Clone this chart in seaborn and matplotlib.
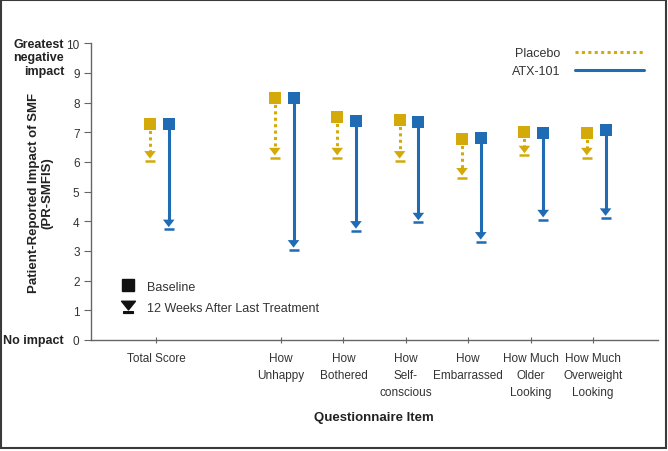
import pandas as pd
import seaborn as sns
import matplotlib.pyplot as plt
from matplotlib.lines import Line2D
from matplotlib.path import Path
from matplotlib.patches import Rectangle
from matplotlib.transforms import blended_transform_factory

# questionnaire items and where they sit on the x axis (gap after total score)
items = ["Total Score", "How\nUnhappy", "How\nBothered", "How\nSelf-\nconscious",
         "How\nEmbarrassed", "How Much\nOlder\nLooking", "How Much\nOverweight\nLooking"]
item_pos = [0, 2, 3, 4, 5, 6, 7]

# scores
placebo_base = [7.28, 8.17, 7.52, 7.41, 6.77, 7.02, 6.97]
placebo_wk12 = [6.04, 6.15, 6.15, 6.04, 5.47, 6.22, 6.15]
atx_base = [7.28, 8.17, 7.37, 7.35, 6.82, 6.97, 7.08]
atx_wk12 = [3.73, 3.04, 3.68, 3.96, 3.31, 4.06, 4.11]

GOLD = "#D4AA0B"
BLUE = "#1F6BB4"

sns.set_style("ticks")
plt.rcParams["font.family"] = ["Liberation Sans", "DejaVu Sans"]

rows = []
for grp, off, base, wk in [("Placebo", -0.1, placebo_base, placebo_wk12),
                           ("ATX-101", 0.2, atx_base, atx_wk12)]:
    for it, p, b, w in zip(items, item_pos, base, wk):
        rows.append({"group": grp, "item": it, "x": p + off, "baseline": b, "week12": w})
df = pd.DataFrame(rows)
df["tri_y"] = df["week12"] + 0.2

palette = {"Placebo": GOLD, "ATX-101": BLUE}
styles = {"Placebo": (0, (1, 1.1)), "ATX-101": "-"}

# downward triangle, a bit wider than tall
tri = Path([(-1, 0.65), (1, 0.65), (0, -0.65), (-1, 0.65)],
           [Path.MOVETO, Path.LINETO, Path.LINETO, Path.CLOSEPOLY])
# triangle with a bar under it, for the legend
tri_bar = Path([(-1, 0.9), (1, 0.9), (0, -0.35), (-1, 0.9),
                (-0.7, -0.6), (0.7, -0.6), (0.7, -0.85), (-0.7, -0.85), (-0.7, -0.6)],
               [Path.MOVETO, Path.LINETO, Path.LINETO, Path.CLOSEPOLY,
                Path.MOVETO, Path.LINETO, Path.LINETO, Path.LINETO, Path.CLOSEPOLY])

fig, ax = plt.subplots(figsize=(6.68, 4.52), dpi=100)
fig.subplots_adjust(left=0.1358, right=0.985, bottom=0.2456, top=0.902)

for grp, sub in df.groupby("group", sort=False):
    for _, r in sub.iterrows():
        ax.plot([r.x, r.x], [r.baseline, r.week12 + 0.28], color=palette[grp],
                lw=2.2, ls=styles[grp], zorder=1)
    ax.plot(sub.x, sub.week12, ls="none", marker="_", ms=7, mew=1.8,
            color=palette[grp], zorder=2)

sns.scatterplot(data=df, x="x", y="baseline", hue="group", palette=palette,
                marker="s", s=75, linewidth=0, legend=False, ax=ax, zorder=3)
sns.scatterplot(data=df, x="x", y="tri_y", hue="group", palette=palette,
                marker=tri, s=70, linewidth=0, legend=False, ax=ax, zorder=3)

ax.set_xlim(-1.05, 8.04)
ax.set_ylim(0, 10)
ax.set_yticks(range(0, 11))
ax.set_xticks(item_pos)
ax.set_xticklabels(items, linespacing=1.55)
sns.despine(ax=ax)
for s in ["left", "bottom"]:
    ax.spines[s].set_color("#666666")
    ax.spines[s].set_linewidth(1)
ax.tick_params(axis="both", colors="#666666", labelcolor="#333333", labelsize=8.5)
ax.tick_params(axis="y", length=5, pad=3)
ax.tick_params(axis="x", length=4, direction="inout", pad=7)

ax.set_xlabel("Questionnaire Item", fontsize=9.5, fontweight="bold", color="#222222")
ax.xaxis.set_label_coords(0.5, -0.238)
ax.set_ylabel("Patient-Reported Impact of SMF\n(PR-SMFIS)", fontsize=9.5,
              fontweight="bold", color="#222222", linespacing=1.1)
ax.yaxis.set_label_coords(-0.066, 0.5)

trans = blended_transform_factory(ax.transAxes, ax.transData)
ax.text(-0.047, 9.53, "Greatest\nnegative\nimpact", transform=trans, ha="right",
        va="center", fontsize=9, fontweight="bold", color="#222222", linespacing=1.15)
ax.text(-0.047, 0, "No impact", transform=trans, ha="right", va="center",
        fontsize=9, fontweight="bold", color="#222222")

leg1 = ax.legend(handles=[Line2D([], [], color=GOLD, lw=2.2, ls=(0, (1, 1.1))),
                          Line2D([], [], color=BLUE, lw=2.2)],
                 labels=["Placebo", "ATX-101"], loc="upper right",
                 bbox_to_anchor=(0.995, 1.025), frameon=False, markerfirst=False,
                 handlelength=5.5, fontsize=9, labelcolor="#333333",
                 labelspacing=0.5, handletextpad=1.2)
ax.add_artist(leg1)
ax.legend(handles=[Line2D([], [], ls="none", marker="s", ms=8, color="#111111"),
                   Line2D([], [], ls="none", marker=tri_bar, ms=10, color="#111111")],
          labels=["Baseline", "12 Weeks After Last Treatment"], loc="lower left",
          bbox_to_anchor=(0.033, 0.05), frameon=False, handlelength=1.2,
          fontsize=9, labelcolor="#333333", labelspacing=0.75, handletextpad=0.9)

fig.add_artist(Rectangle((0.002, 0.006), 0.995, 0.992, transform=fig.transFigure,
                         fill=False, ec="#3a3a3a", lw=1.5))

fig.savefig("out.png", dpi=100)
